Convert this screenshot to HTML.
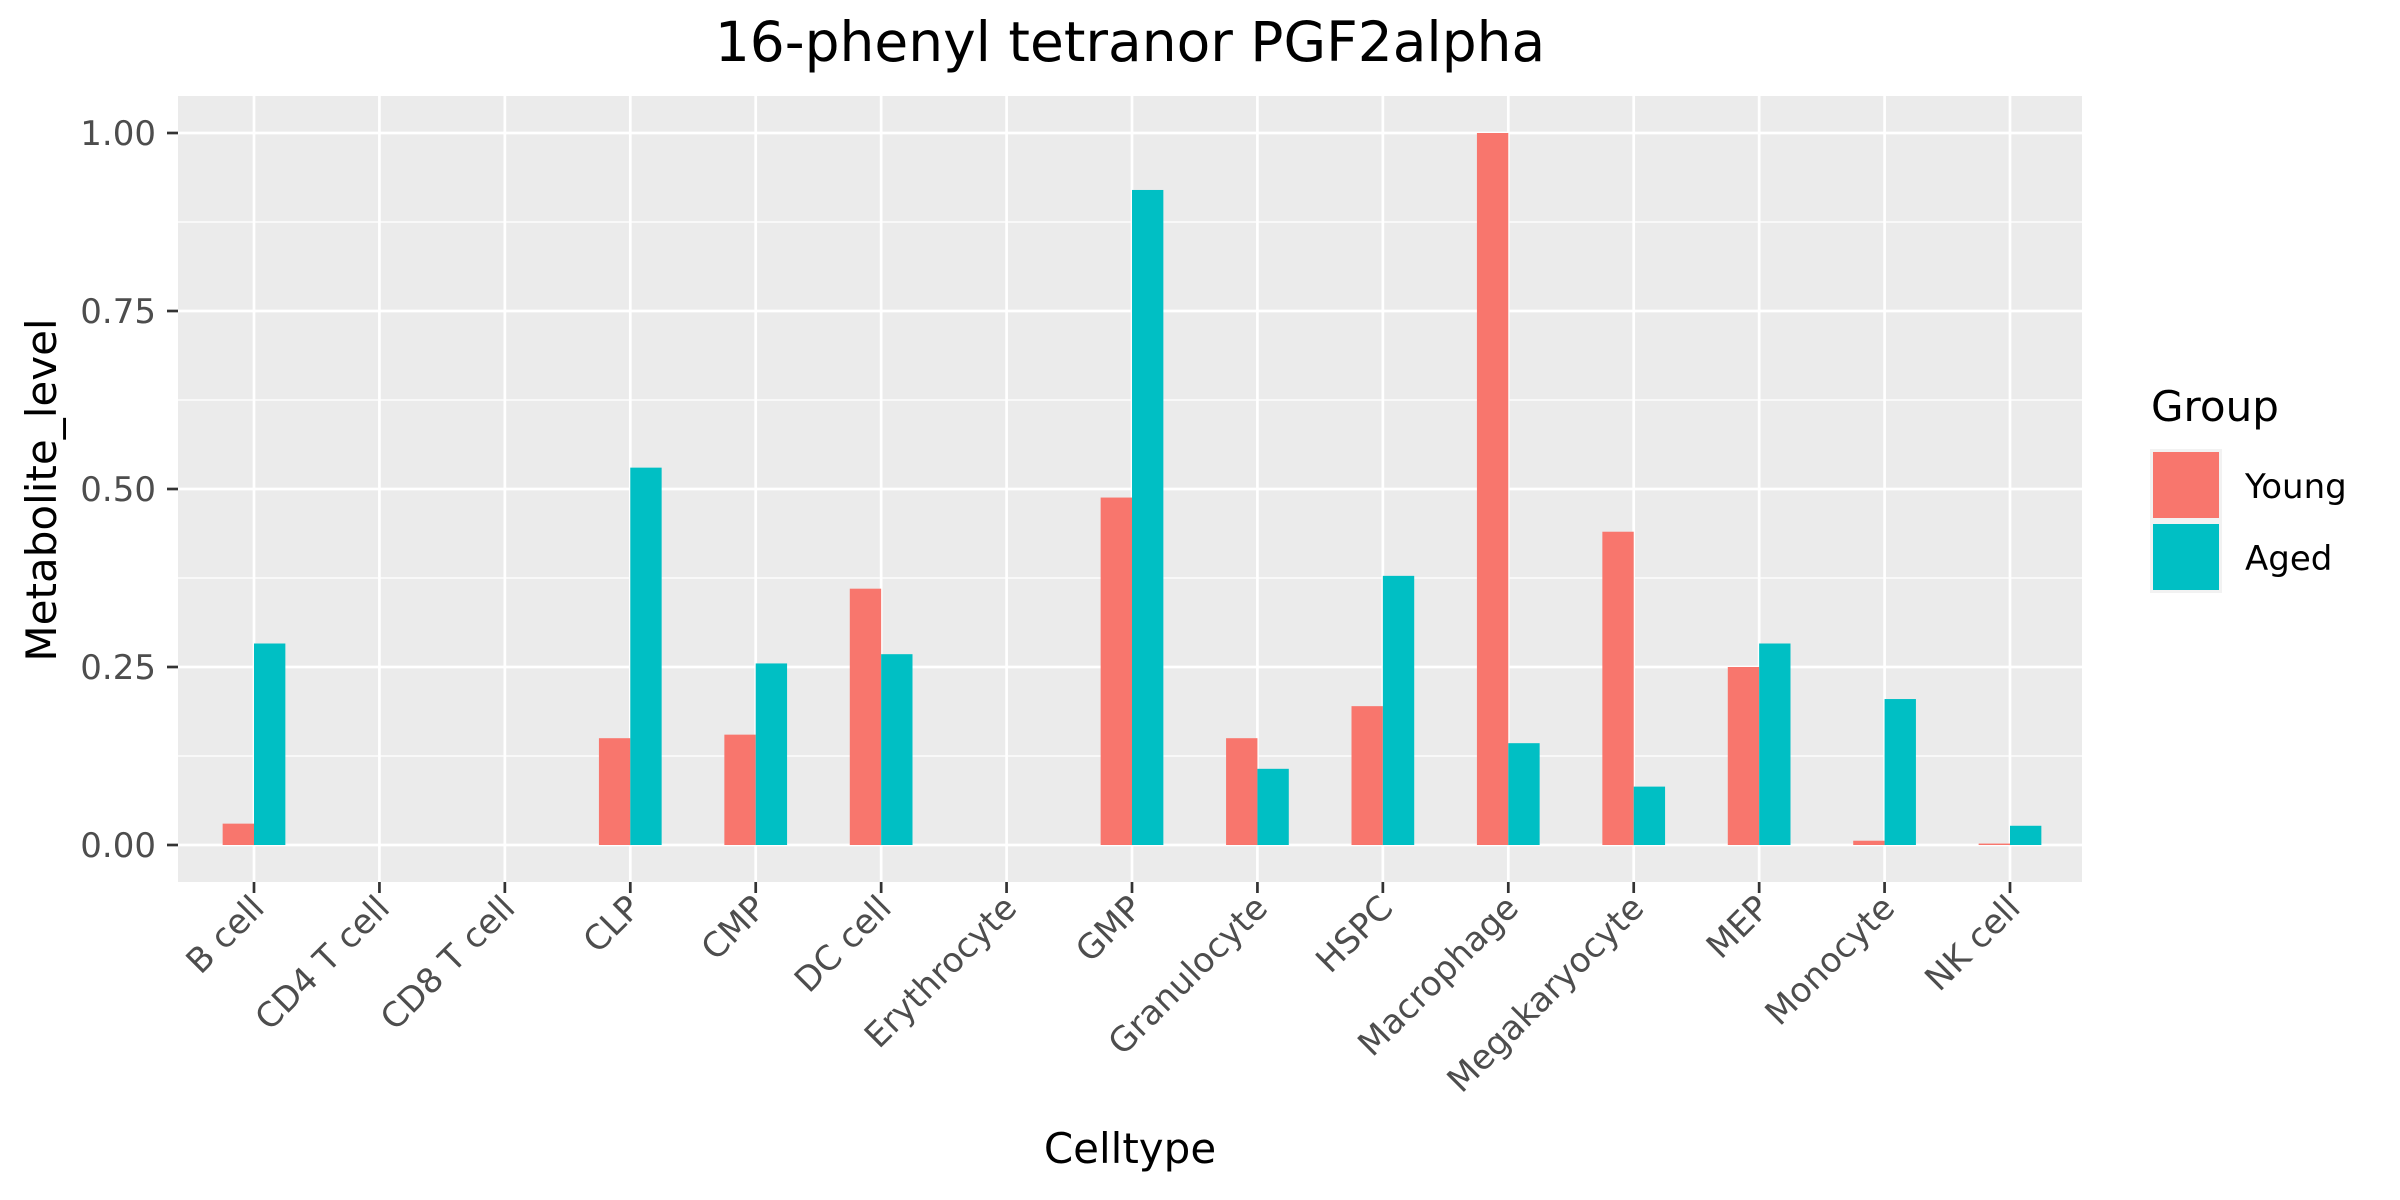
<!DOCTYPE html>
<html><head><meta charset="utf-8"><style>body{margin:0;background:#fff}svg{display:block}</style></head>
<body>
<svg id="chart" width="2400" height="1200" xmlns="http://www.w3.org/2000/svg" font-family="'DejaVu Sans','Liberation Sans',sans-serif">
<text x="1130" y="61" font-size="55" text-anchor="middle" fill="#000">16-phenyl tetranor PGF2alpha</text>
<rect x="178" y="96" width="1904" height="786" fill="#ebebeb"/>
<g id="grid"></g><g id="bars"></g><g id="axes"></g>
<text x="1130" y="1163" font-size="42" text-anchor="middle">Celltype</text>
<text transform="translate(56,490) rotate(-90)" font-size="42" text-anchor="middle">Metabolite_level</text>
<g>
<text x="2151" y="421" font-size="42">Group</text>
<rect x="2150" y="449" width="72" height="144" fill="#f2f2f2"/>
<rect x="2153" y="452" width="66" height="66" fill="#F8766D"/>
<rect x="2153" y="524" width="66" height="66" fill="#00BFC4"/>
<text x="2245" y="498" font-size="34">Young</text>
<text x="2245" y="570" font-size="34">Aged</text>
</g>
</svg>
<script>
const categories=["B cell","CD4 T cell","CD8 T cell","CLP","CMP","DC cell","Erythrocyte","GMP","Granulocyte","HSPC","Macrophage","Megakaryocyte","MEP","Monocyte","NK cell"];
const young=[0.03,0,0,0.15,0.155,0.36,0,0.488,0.15,0.195,1.0,0.44,0.25,0.006,0.002];
const aged=[0.283,0,0,0.53,0.255,0.268,0,0.92,0.107,0.378,0.143,0.082,0.283,0.205,0.027];
const yTicks=[0,0.25,0.5,0.75,1.0];
const yTickLabels=["0.00","0.25","0.50","0.75","1.00"];
const NS="http://www.w3.org/2000/svg";
const X0=254,X1=2010,Y0=845,Y1=133;
const step=(X1-X0)/(categories.length-1);
const xs=i=>X0+i*step;
const ys=v=>Y0+(Y1-Y0)*v;
function mk(tag,attrs,parent){const e=document.createElementNS(NS,tag);for(const k in attrs)e.setAttribute(k,attrs[k]);document.getElementById(parent).appendChild(e);return e;}
for(let v=-0.125;v<=1.1;v+=0.25){const y=ys(v);if(y<96||y>882)continue;
 const l=mk('line',{x1:178,x2:2082,y1:y,y2:y,stroke:'#fff','stroke-width':1.3},'grid');
 
 }
yTicks.forEach((v,i)=>{const y=ys(v);
 const l=mk('line',{x1:178,x2:2082,y1:y,y2:y,stroke:'#fff','stroke-width':2.7},'grid');
 
 
 const t=mk('line',{x1:167,x2:178,y1:y,y2:y,stroke:'#333','stroke-width':2.7},'axes');
 
 
 const tx=mk('text',{x:156,y:y+12,'font-size':34,'text-anchor':'end',fill:'#4d4d4d'},'axes');
 tx.textContent=yTickLabels[i];
 
 });
const bw=step*0.25;
categories.forEach((c,i)=>{const x=xs(i);
 const g=mk('line',{x1:x,x2:x,y1:96,y2:882,stroke:'#fff','stroke-width':2.7},'grid');
 
 
 const by=mk('rect',{x:x-bw,y:ys(young[i]),width:bw,height:Math.max(0,Y0-ys(young[i])),fill:'#F8766D'},'bars');
 
 
 const ba=mk('rect',{x:x,y:ys(aged[i]),width:bw,height:Math.max(0,Y0-ys(aged[i])),fill:'#00BFC4'},'bars');
 
 
 const t=mk('line',{x1:x,x2:x,y1:882,y2:893,stroke:'#333','stroke-width':2.7},'axes');
 
 
 const tx=mk('text',{transform:`translate(${x+12},${910}) rotate(-45)`,'font-size':34,'text-anchor':'end',fill:'#4d4d4d'},'axes');
 tx.textContent=c;
 
 });
</script>
</body></html>
